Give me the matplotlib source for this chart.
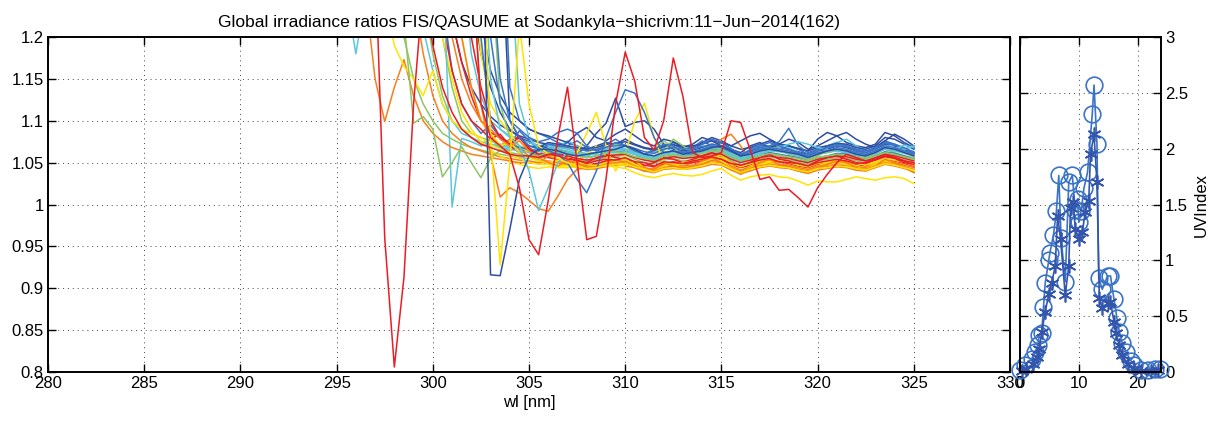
import matplotlib
matplotlib.use("Agg")
import matplotlib.pyplot as plt
import numpy as np
from matplotlib.ticker import FuncFormatter

plt.rcParams["font.family"] = ["Liberation Sans", "DejaVu Sans"]
plt.rcParams["font.size"] = 12

# wavelength grid; every ratio spectrum below runs from its first point up to 325 nm
wl = np.arange(295.5, 325.01, 0.5)

# FIS/QASUME global irradiance ratios, one list per scan
dblue_a = [1.40, 0.916, 0.915, 0.970, 1.030, 1.058, 1.066,
           1.066, 1.064, 1.060, 1.058, 1.060, 1.062, 1.064, 1.066, 1.070, 1.066,
           1.060, 1.058, 1.062, 1.064, 1.060, 1.062, 1.064, 1.068, 1.070, 1.064,
           1.058, 1.060, 1.064, 1.066, 1.064, 1.062, 1.060, 1.056, 1.060, 1.064,
           1.066, 1.064, 1.060, 1.058, 1.062, 1.068, 1.066, 1.062, 1.058]
red_a = [1.30, 0.960, 0.806, 0.913, 1.120, 1.260, 1.190, 1.140, 1.110, 1.090,
         1.080, 1.072, 1.068, 1.064, 1.060, 1.058, 1.058, 1.056,
         1.060, 1.058, 1.054, 1.053, 1.049, 1.052, 1.054, 1.053, 1.056, 1.051,
         1.050, 1.046, 1.051, 1.050, 1.049, 1.052, 1.054, 1.057, 1.054, 1.049,
         1.047, 1.050, 1.053, 1.055, 1.051, 1.050, 1.049, 1.046, 1.050, 1.052,
         1.054, 1.052, 1.049, 1.050, 1.053, 1.057, 1.055, 1.050, 1.048]
red_b = [1.30, 1.12, 1.08, 1.07, 1.06, 1.02, 0.958, 0.940,
         1.005, 1.080, 1.140, 1.050, 0.958, 0.962, 1.030, 1.120, 1.182, 1.147,
         1.080, 1.065, 1.100, 1.175, 1.129, 1.062, 1.056, 1.058, 1.062, 1.100,
         1.098, 1.065, 1.030, 1.033, 1.017, 1.018, 1.008, 0.997, 1.020, 1.036,
         1.050, 1.060, 1.056, 1.052, 1.054, 1.058, 1.056, 1.052, 1.050]
yellow_a = [1.35, 1.080, 0.928, 1.050, 1.215, 1.120, 1.070,
            1.060, 1.055, 1.050, 1.046, 1.043, 1.044, 1.047, 1.048, 1.049, 1.045,
            1.042, 1.039, 1.043, 1.044, 1.042, 1.044, 1.046, 1.050, 1.048, 1.043,
            1.038, 1.042, 1.045, 1.047, 1.045, 1.044, 1.041, 1.039, 1.043, 1.044,
            1.046, 1.045, 1.043, 1.041, 1.045, 1.049, 1.047, 1.044, 1.041]
cyan_a = [1.30, 0.997, 1.079, 1.075, 1.070, 1.072, 1.068, 1.066, 1.064, 1.062, 1.060,
          1.068, 1.066, 1.064, 1.061, 1.059, 1.061, 1.064, 1.065, 1.066, 1.062,
          1.058, 1.056, 1.060, 1.062, 1.061, 1.062, 1.064, 1.067, 1.066, 1.060,
          1.055, 1.058, 1.062, 1.064, 1.063, 1.061, 1.058, 1.056, 1.060, 1.062,
          1.064, 1.062, 1.059, 1.058, 1.062, 1.066, 1.064, 1.061, 1.058]
cyan_b = [1.25, 1.180, 1.25, 1.32, 1.35, 1.33, 1.30, 1.26, 1.21, 1.16, 1.12,
          1.100, 1.085, 1.080, 1.075, 1.072, 1.070, 1.068, 1.066, 1.064, 1.063,
          1.070, 1.068, 1.066, 1.063, 1.061, 1.062, 1.065, 1.066, 1.067, 1.063,
          1.060, 1.058, 1.061, 1.063, 1.062, 1.063, 1.065, 1.068, 1.067, 1.062,
          1.057, 1.060, 1.063, 1.066, 1.064, 1.062, 1.060, 1.058, 1.061, 1.063,
          1.065, 1.064, 1.062, 1.060, 1.063, 1.067, 1.066, 1.063, 1.060]
orange_a = [1.25, 1.15, 1.099, 1.14, 1.173, 1.13, 1.10, 1.085, 1.075, 1.068,
            1.064, 1.060, 1.058, 1.056, 1.054, 1.052, 1.050, 1.050, 1.049,
            1.058, 1.054, 1.051, 1.048, 1.046, 1.047, 1.050, 1.050, 1.052, 1.048,
            1.044, 1.042, 1.046, 1.047, 1.046, 1.047, 1.049, 1.053, 1.051, 1.046,
            1.041, 1.045, 1.048, 1.050, 1.048, 1.047, 1.044, 1.042, 1.046, 1.047,
            1.049, 1.048, 1.045, 1.044, 1.048, 1.052, 1.050, 1.047, 1.044]
green_a = [1.22, 1.097, 1.105, 1.090, 1.033, 1.050, 1.069, 1.050, 1.032, 1.055,
           1.065, 1.062, 1.060, 1.058, 1.058,
           1.062, 1.064, 1.061, 1.058, 1.056, 1.058, 1.062, 1.063, 1.061, 1.057,
           1.055, 1.053, 1.058, 1.060, 1.057, 1.058, 1.061, 1.064, 1.063, 1.057,
           1.052, 1.055, 1.058, 1.061, 1.059, 1.057, 1.055, 1.052, 1.056, 1.058,
           1.060, 1.059, 1.056, 1.054, 1.058, 1.062, 1.060, 1.057, 1.054]
green_b = [1.30, 1.20, 1.15, 1.12, 1.10, 1.085, 1.078, 1.072, 1.068, 1.065,
           1.062, 1.060, 1.058, 1.056, 1.055, 1.054,
           1.060, 1.058, 1.056, 1.054, 1.051, 1.053, 1.056, 1.057, 1.059, 1.054,
           1.050, 1.049, 1.053, 1.055, 1.052, 1.053, 1.056, 1.059, 1.058, 1.052,
           1.047, 1.051, 1.054, 1.057, 1.055, 1.053, 1.050, 1.048, 1.052, 1.054,
           1.056, 1.055, 1.052, 1.050, 1.054, 1.059, 1.056, 1.053, 1.050]
orange_b = [1.30, 1.12, 1.06, 1.009, 1.020, 1.014, 1.005, 0.995,
            0.992, 1.010, 1.030, 1.042, 1.044, 1.045, 1.048, 1.049, 1.050, 1.046,
            1.042, 1.040, 1.044, 1.046, 1.044, 1.045, 1.048, 1.051, 1.049, 1.044,
            1.039, 1.043, 1.046, 1.048, 1.046, 1.045, 1.042, 1.040, 1.044, 1.045,
            1.047, 1.046, 1.043, 1.042, 1.046, 1.050, 1.048, 1.045, 1.042]
cyan_c = [1.35, 1.15, 1.09, 1.08, 1.07, 1.04, 0.993,
          1.020, 1.050, 1.062, 1.060, 1.058, 1.062, 1.066, 1.068, 1.066, 1.061,
          1.058, 1.055, 1.060, 1.063, 1.060, 1.062, 1.066, 1.070, 1.068, 1.060,
          1.055, 1.059, 1.064, 1.067, 1.065, 1.062, 1.059, 1.056, 1.061, 1.063,
          1.066, 1.064, 1.060, 1.058, 1.063, 1.068, 1.066, 1.071, 1.068]
blue_a = [1.30, 1.15, 1.10, 1.08, 1.07, 1.066,
          1.064, 1.060, 1.050, 1.030, 1.014, 1.040, 1.080, 1.110, 1.137, 1.133,
          1.110, 1.080, 1.062, 1.064, 1.062, 1.063, 1.066, 1.070, 1.068, 1.063,
          1.058, 1.062, 1.066, 1.068, 1.066, 1.064, 1.061, 1.058, 1.062, 1.064,
          1.068, 1.066, 1.062, 1.060, 1.064, 1.070, 1.068, 1.064, 1.060]
dblue_b = [1.40, 1.25, 1.18, 1.14, 1.11, 1.09, 1.08, 1.075, 1.070,
           1.068, 1.066, 1.062, 1.060, 1.070, 1.085, 1.097, 1.127, 1.093, 1.098,
           1.100, 1.090, 1.072, 1.066, 1.064, 1.065, 1.068, 1.072, 1.070, 1.064,
           1.060, 1.064, 1.068, 1.070, 1.068, 1.066, 1.063, 1.060, 1.064, 1.066,
           1.070, 1.068, 1.064, 1.062, 1.066, 1.072, 1.070, 1.066, 1.062]
yellow_b = [1.30, 1.20, 1.15, 1.11, 1.09, 1.075, 1.065, 1.058, 1.052, 1.048, 1.045, 1.043,
            1.045, 1.044, 1.044, 1.045, 1.046, 1.047, 1.046, 1.045, 1.043, 1.038,
            1.034, 1.032, 1.035, 1.037, 1.035, 1.034, 1.036, 1.040, 1.043, 1.035,
            1.029, 1.033, 1.035, 1.036, 1.033, 1.032, 1.028, 1.023, 1.028, 1.027,
            1.027, 1.030, 1.033, 1.031, 1.029, 1.032, 1.033, 1.031, 1.025]
yellow_c = [1.30, 1.20, 1.14, 1.10, 1.085, 1.070, 1.075, 1.062, 1.056, 1.052,
            1.050, 1.052, 1.055, 1.062, 1.085, 1.110, 1.070, 1.040, 1.060, 1.100,
            1.121, 1.080, 1.050, 1.048, 1.050, 1.052, 1.055, 1.058, 1.056, 1.050,
            1.045, 1.049, 1.052, 1.054, 1.052, 1.050, 1.047, 1.045, 1.049, 1.051,
            1.053, 1.052, 1.049, 1.047, 1.051, 1.055, 1.053, 1.050, 1.047]
orange_c = [1.30, 1.20, 1.15, 1.12, 1.10, 1.085, 1.070, 1.078, 1.066, 1.058, 1.052,
            1.052, 1.050, 1.047, 1.044, 1.042, 1.043, 1.045, 1.047, 1.048, 1.044,
            1.040, 1.038, 1.042, 1.043, 1.042, 1.043, 1.045, 1.048, 1.047, 1.041,
            1.037, 1.040, 1.044, 1.046, 1.044, 1.043, 1.040, 1.037, 1.041, 1.043,
            1.045, 1.044, 1.041, 1.040, 1.044, 1.048, 1.046, 1.043, 1.040]
red_c = [1.30, 1.20, 1.14, 1.10, 1.08, 1.072, 1.080, 1.066, 1.060,
         1.062, 1.060, 1.058, 1.055, 1.053, 1.055, 1.058, 1.059, 1.060, 1.056,
         1.053, 1.051, 1.055, 1.057, 1.055, 1.056, 1.058, 1.061, 1.060, 1.054,
         1.050, 1.053, 1.056, 1.058, 1.056, 1.055, 1.052, 1.050, 1.054, 1.056,
         1.058, 1.057, 1.054, 1.052, 1.056, 1.060, 1.058, 1.055, 1.052]
green_c = [1.30, 1.12, 1.08, 1.07, 1.066, 1.064,
           1.066, 1.064, 1.062, 1.060, 1.058, 1.062, 1.068, 1.072, 1.070, 1.064,
           1.060, 1.058, 1.064, 1.078, 1.070, 1.062, 1.064, 1.068, 1.066, 1.060,
           1.056, 1.060, 1.064, 1.066, 1.064, 1.062, 1.059, 1.056, 1.060, 1.062,
           1.065, 1.064, 1.060, 1.058, 1.062, 1.067, 1.066, 1.063, 1.059]
blue_b = [1.40, 1.20, 1.10, 1.08, 1.072, 1.068, 1.066, 1.064,
          1.072, 1.070, 1.068, 1.066, 1.064, 1.066, 1.069, 1.070, 1.071, 1.067,
          1.063, 1.061, 1.066, 1.068, 1.066, 1.067, 1.069, 1.072, 1.070, 1.066,
          1.060, 1.064, 1.068, 1.070, 1.075, 1.091, 1.070, 1.062, 1.066, 1.068,
          1.070, 1.069, 1.066, 1.064, 1.068, 1.073, 1.071, 1.067, 1.063]
dblue_c = [1.35, 1.10, 1.08, 1.07, 1.068,
           1.074, 1.072, 1.070, 1.068, 1.066, 1.068, 1.072, 1.073, 1.075, 1.071,
           1.067, 1.065, 1.069, 1.071, 1.069, 1.070, 1.072, 1.076, 1.074, 1.070,
           1.076, 1.082, 1.085, 1.078, 1.072, 1.070, 1.067, 1.064, 1.068, 1.070,
           1.073, 1.072, 1.068, 1.066, 1.070, 1.080, 1.078, 1.072, 1.066]
cyan_d = [1.30, 1.12, 1.08, 1.066,
          1.064, 1.062, 1.060, 1.058, 1.056, 1.058, 1.061, 1.062, 1.063, 1.060,
          1.056, 1.054, 1.058, 1.060, 1.058, 1.059, 1.062, 1.065, 1.064, 1.058,
          1.054, 1.057, 1.060, 1.064, 1.068, 1.072, 1.075, 1.072, 1.068, 1.066,
          1.064, 1.062, 1.060, 1.058, 1.062, 1.066, 1.064, 1.066, 1.070]
blue_c = [1.35, 1.24, 1.16, 1.12, 1.10, 1.085, 1.095, 1.080, 1.072, 1.088, 1.076, 1.066,
          1.066, 1.064, 1.062, 1.058, 1.056, 1.058, 1.062, 1.063, 1.064, 1.060,
          1.056, 1.054, 1.058, 1.060, 1.058, 1.060, 1.062, 1.066, 1.064, 1.058,
          1.052, 1.056, 1.060, 1.062, 1.060, 1.058, 1.056, 1.052, 1.056, 1.058,
          1.061, 1.060, 1.056, 1.054, 1.058, 1.063, 1.061, 1.058, 1.054]
red_d = [1.30, 1.22, 1.16, 1.12, 1.10, 1.09, 1.078, 1.084, 1.070, 1.062, 1.066, 1.058,
         1.056, 1.054, 1.052, 1.050, 1.047, 1.049, 1.052, 1.053, 1.054, 1.050,
         1.047, 1.045, 1.049, 1.051, 1.049, 1.050, 1.052, 1.055, 1.054, 1.048,
         1.044, 1.047, 1.050, 1.053, 1.051, 1.049, 1.046, 1.044, 1.048, 1.050,
         1.052, 1.051, 1.048, 1.046, 1.050, 1.054, 1.052, 1.049, 1.046]
green_d = [1.25, 1.18, 1.13, 1.10, 1.09, 1.08, 1.072, 1.078, 1.068, 1.064, 1.070, 1.062, 1.058,
           1.060, 1.059, 1.057, 1.055, 1.053, 1.055, 1.058, 1.060, 1.061, 1.057,
           1.054, 1.052, 1.056, 1.058, 1.056, 1.057, 1.059, 1.062, 1.061, 1.055,
           1.051, 1.054, 1.057, 1.060, 1.058, 1.056, 1.053, 1.051, 1.055, 1.057,
           1.059, 1.058, 1.055, 1.053, 1.057, 1.061, 1.059, 1.056, 1.053]
dblue_d = [1.35, 1.22, 1.16, 1.13, 1.11, 1.10, 1.09, 1.085,
           1.082, 1.078, 1.074, 1.085, 1.092, 1.080, 1.076, 1.084, 1.090, 1.082,
           1.074, 1.070, 1.078, 1.075, 1.068, 1.072, 1.080, 1.076, 1.070, 1.066,
           1.062, 1.070, 1.074, 1.068, 1.072, 1.078, 1.074, 1.066, 1.070, 1.076,
           1.082, 1.086, 1.078, 1.072, 1.068, 1.076, 1.084, 1.078, 1.070]
blue_d = [1.40, 1.14, 1.10, 1.09, 1.085,
          1.080, 1.074, 1.070, 1.076, 1.068, 1.064, 1.072, 1.078, 1.070, 1.066,
          1.060, 1.064, 1.070, 1.072, 1.066, 1.068, 1.076, 1.070, 1.074, 1.067,
          1.058, 1.066, 1.072, 1.068, 1.064, 1.070, 1.066, 1.060, 1.066, 1.070,
          1.074, 1.070, 1.064, 1.062, 1.068, 1.076, 1.072, 1.066, 1.060]
cyan_e = [1.30, 1.18, 1.13, 1.10, 1.09, 1.082, 1.078, 1.074, 1.070,
          1.072, 1.068, 1.076, 1.070, 1.064, 1.060, 1.068, 1.072, 1.066, 1.060,
          1.056, 1.062, 1.068, 1.064, 1.058, 1.066, 1.070, 1.064, 1.062, 1.056,
          1.052, 1.060, 1.066, 1.070, 1.072, 1.068, 1.062, 1.058, 1.064, 1.070,
          1.074, 1.078, 1.070, 1.064, 1.060, 1.068, 1.072, 1.066, 1.070]
green_e = [1.30, 1.20, 1.14, 1.10, 1.085, 1.080, 1.076, 1.072, 1.070, 1.068, 1.066, 1.064,
           1.064, 1.068, 1.070, 1.064, 1.058, 1.062, 1.068, 1.064, 1.060, 1.056,
           1.060, 1.066, 1.076, 1.068, 1.060, 1.056, 1.062, 1.066, 1.064, 1.060,
           1.054, 1.058, 1.064, 1.070, 1.066, 1.060, 1.058, 1.054, 1.058, 1.064,
           1.066, 1.060, 1.058, 1.056, 1.060, 1.066, 1.062, 1.058, 1.056]
orange_d = [1.30, 1.20, 1.14, 1.10, 1.09, 1.078, 1.070, 1.076, 1.064, 1.056,
            1.050, 1.046, 1.052, 1.050, 1.044, 1.042, 1.048, 1.054, 1.050, 1.046,
            1.040, 1.044, 1.050, 1.046, 1.042, 1.046, 1.052, 1.056, 1.050, 1.042,
            1.036, 1.042, 1.050, 1.054, 1.048, 1.046, 1.040, 1.038, 1.044, 1.048,
            1.052, 1.050, 1.044, 1.040, 1.046, 1.054, 1.050, 1.044, 1.038]
red_e = [1.30, 1.22, 1.17, 1.13, 1.10, 1.086, 1.080, 1.074, 1.082, 1.068, 1.060,
         1.058, 1.062, 1.056, 1.052, 1.050, 1.056, 1.060, 1.056, 1.054, 1.050,
         1.046, 1.050, 1.056, 1.054, 1.050, 1.054, 1.058, 1.062, 1.056, 1.050,
         1.046, 1.050, 1.056, 1.060, 1.054, 1.052, 1.048, 1.046, 1.052, 1.056,
         1.058, 1.054, 1.050, 1.048, 1.054, 1.060, 1.056, 1.052, 1.046]
yellow_d = [1.30, 1.18, 1.12, 1.10, 1.085, 1.07, 1.062, 1.055,
            1.050, 1.048, 1.046, 1.052, 1.060, 1.070, 1.058, 1.050, 1.046, 1.052,
            1.044, 1.040, 1.046, 1.050, 1.046, 1.044, 1.050, 1.054, 1.060, 1.048,
            1.040, 1.046, 1.050, 1.052, 1.048, 1.046, 1.044, 1.040, 1.046, 1.050,
            1.052, 1.050, 1.046, 1.044, 1.050, 1.054, 1.050, 1.046, 1.040]
yellow_e = [1.25, 1.19, 1.165, 1.15, 1.13, 1.16, 1.12, 1.10, 1.09, 1.085, 1.08,
            1.072, 1.066, 1.060, 1.055, 1.050, 1.048,
            1.048, 1.046, 1.044, 1.050, 1.048, 1.046, 1.050, 1.052, 1.054, 1.048,
            1.042, 1.040, 1.046, 1.048, 1.044, 1.046, 1.050, 1.055, 1.052, 1.044,
            1.038, 1.044, 1.048, 1.050, 1.046, 1.044, 1.042, 1.038, 1.044, 1.048,
            1.050, 1.048, 1.044, 1.042, 1.048, 1.052, 1.048, 1.044, 1.040]
blue_e = [1.40, 1.20, 1.12, 1.10, 1.09, 1.08, 1.075,
          1.078, 1.086, 1.090, 1.085, 1.070, 1.064, 1.068, 1.074, 1.070, 1.064,
          1.060, 1.066, 1.072, 1.070, 1.062, 1.066, 1.072, 1.078, 1.074, 1.066,
          1.060, 1.064, 1.070, 1.074, 1.070, 1.066, 1.062, 1.058, 1.064, 1.068,
          1.072, 1.070, 1.066, 1.062, 1.066, 1.074, 1.072, 1.068, 1.062]
dblue_e = [1.30, 1.22, 1.17, 1.14, 1.12, 1.105, 1.095, 1.088, 1.082, 1.078, 1.074,
           1.072, 1.070, 1.074, 1.070, 1.066, 1.070, 1.074, 1.072, 1.078, 1.072,
           1.068, 1.066, 1.070, 1.074, 1.070, 1.068, 1.074, 1.080, 1.076, 1.070,
           1.066, 1.068, 1.072, 1.076, 1.072, 1.070, 1.066, 1.064, 1.078, 1.086,
           1.082, 1.074, 1.070, 1.068, 1.072, 1.086, 1.082, 1.074, 1.068]
orange_e = [1.25, 1.18, 1.13, 1.10, 1.085, 1.075, 1.068, 1.064, 1.060, 1.057,
            1.055, 1.053, 1.052, 1.050,
            1.050, 1.052, 1.048, 1.046, 1.044, 1.048, 1.052, 1.050, 1.046, 1.044,
            1.040, 1.042, 1.048, 1.050, 1.046, 1.050, 1.056, 1.066, 1.078, 1.084,
            1.070, 1.052, 1.048, 1.050, 1.046, 1.044, 1.040, 1.038, 1.044, 1.048,
            1.050, 1.048, 1.044, 1.042, 1.046, 1.050, 1.048, 1.044, 1.040]

# UV index through the day (hour, UVI)
fis_hour = [0.0, 0.9, 2.0, 2.6, 3.0, 3.3, 3.7, 4.0, 4.3, 4.9, 5.1, 5.7, 6.2, 6.6,
            7.0, 7.7, 8.3, 8.9, 9.4, 9.8, 10.0, 10.4, 10.9, 11.5, 12.3, 12.6, 13.1,
            13.4, 14.0, 14.9, 15.4, 16.0, 16.5, 16.9, 17.4, 18.0, 18.9, 19.4, 20.6,
            21.7, 22.9, 23.9]
fis_uvi = [0.02, 0.06, 0.12, 0.18, 0.24, 0.33, 0.35, 0.58, 0.80, 1.00, 1.07, 1.23,
           1.44, 1.76, 1.20, 0.81, 1.70, 1.76, 1.45, 1.55, 1.34, 1.44, 1.65, 1.79,
           2.31, 2.57, 2.04, 0.84, 0.74, 0.86, 0.86, 0.65, 0.48, 0.36, 0.26, 0.18,
           0.10, 0.06, 0.02, 0.02, 0.03, 0.03]
qas_hour = [0.3, 1.1, 2.3, 2.9, 3.3, 3.7, 4.3, 4.9, 5.4, 6.0, 6.4, 6.9, 7.7, 8.3,
            8.6, 9.1, 9.4, 10.1, 10.6, 11.1, 11.7, 12.0, 12.6, 13.1, 13.5, 14.0,
            14.9, 15.4, 16.0, 16.3, 16.9, 17.4, 18.3, 19.4, 20.6, 22.3, 23.4]
qas_uvi = [0.01, 0.03, 0.075, 0.135, 0.21, 0.36, 0.54, 0.70, 0.80, 0.95, 1.40,
           1.19, 0.69, 0.95, 1.47, 1.52, 1.28, 1.19, 1.25, 1.43, 1.53, 1.95, 2.13,
           1.70, 0.66, 0.57, 0.62, 0.63, 0.45, 0.35, 0.24, 0.15, 0.075, 0.03, 0.01,
           0.01, 0.015]

DBLUE = "#2D4DA2"
BLUE = "#3B74C6"
CYAN = "#5CC6DC"
GREEN = "#8DC663"
YELLOW = "#FFE400"
ORANGE = "#F77F1E"
RED = "#EC1C24"

spectra = [
    (cyan_b, CYAN), (green_b, GREEN), (dblue_b, DBLUE), (orange_c, ORANGE),
    (dblue_e, DBLUE), (green_e, GREEN), (blue_d, BLUE), (orange_e, ORANGE),
    (blue_c, BLUE), (green_d, GREEN), (yellow_b, YELLOW), (red_d, RED),
    (cyan_e, CYAN), (red_e, RED), (yellow_d, YELLOW), (dblue_d, DBLUE),
    (cyan_a, CYAN), (dblue_c, DBLUE), (orange_a, ORANGE), (green_c, GREEN),
    (yellow_e, YELLOW), (blue_b, BLUE), (yellow_c, YELLOW), (red_c, RED),
    (cyan_d, CYAN), (orange_d, ORANGE), (blue_e, BLUE),
    (green_a, GREEN), (orange_b, ORANGE), (cyan_c, CYAN), (blue_a, BLUE),
    (yellow_a, YELLOW), (dblue_a, DBLUE), (red_a, RED), (red_b, RED),
]

fig = plt.figure(figsize=(12.16, 4.21), dpi=100)
ax = fig.add_axes([0.0395, 0.1164, 0.7911, 0.7957])
ax2 = fig.add_axes([0.8388, 0.1164, 0.1160, 0.7957])

grid_kw = dict(color="#444444", linestyle=(0, (1, 4)), linewidth=0.7)

for ratios, color in spectra:
    ax.plot(wl[-len(ratios):], ratios, color=color, lw=1.1)

ax.set_xlim(280, 330)
ax.set_ylim(0.8, 1.2)
ax.set_xticks(np.arange(280, 331, 5))
ax.set_yticks(np.arange(0.8, 1.2001, 0.05))
ax.yaxis.set_major_formatter(FuncFormatter(lambda v, p: "%g" % round(v, 2)))
ax.grid(True, **grid_kw)
ax.set_title("Global irradiance ratios FIS/QASUME at Sodankyla\u2212shicrivm:11\u2212Jun\u22122014(162)",
             fontsize=12.5, pad=7)
ax.set_xlabel("wl [nm]", labelpad=3)

ax2.plot(fis_hour, fis_uvi, "-o", color=BLUE, mfc="none", ms=12, mew=1.2,
         lw=1.2, clip_on=False)
ax2.plot(qas_hour, qas_uvi, "-", marker=(6, 2, 0), color="#3356AC", ms=10,
         mew=1.2, lw=1.2, clip_on=False)
ax2.set_xlim(0, 24)
ax2.set_ylim(0, 3)
ax2.set_xticks([0, 10, 20])
ax2.set_yticks(np.arange(0, 3.01, 0.5))
ax2.yaxis.set_major_formatter(FuncFormatter(lambda v, p: "%g" % v))
ax2.yaxis.tick_right()
ax2.yaxis.set_label_position("right")
ax2.set_ylabel("UVIndex", labelpad=4)
ax2.grid(True, **grid_kw)

for a in (ax, ax2):
    a.tick_params(direction="in", length=6, width=1.0, top=True, right=True,
                  left=True, labelsize=12, pad=3)
    for s in a.spines.values():
        s.set_linewidth(1.4)
ax2.tick_params(labelleft=False, labelright=True)

fig.savefig("out.png", dpi=100)
